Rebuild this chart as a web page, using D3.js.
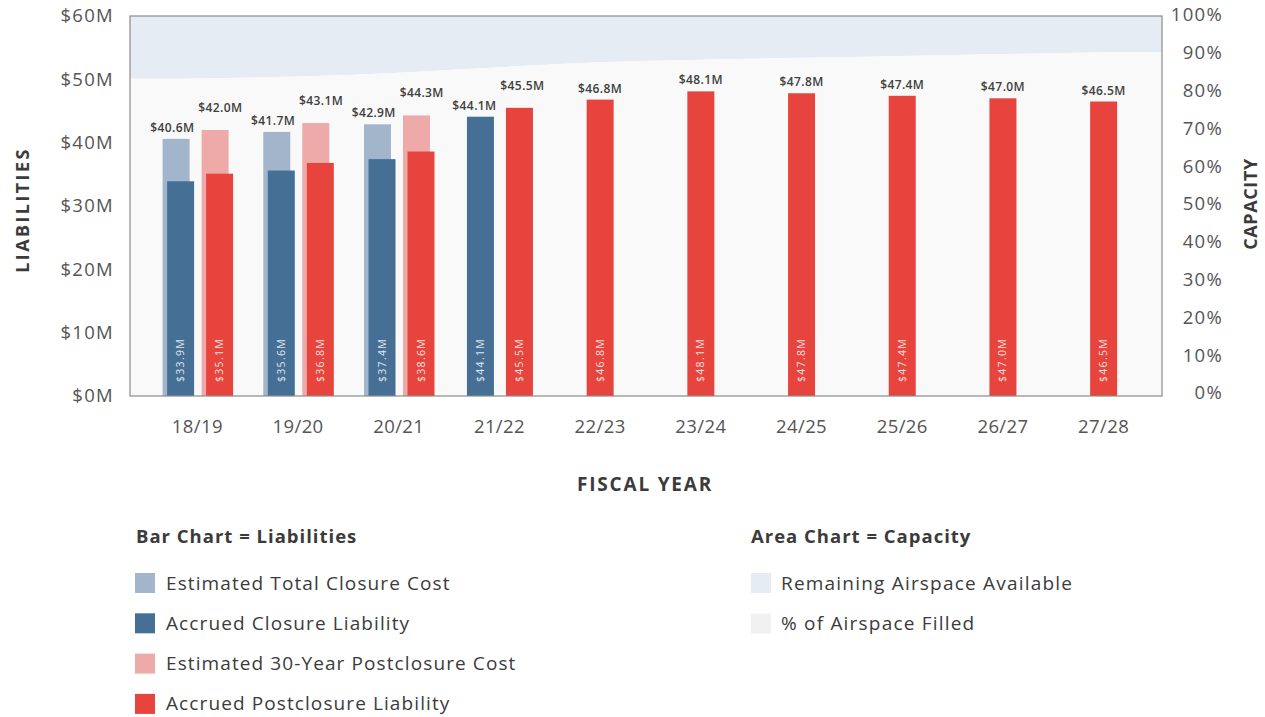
<!DOCTYPE html>
<html>
<head>
<meta charset="utf-8">
<script src="https://cdn.jsdelivr.net/npm/d3@7/dist/d3.min.js"></script>
<style>
  html, body { margin: 0; padding: 0; background: #fff; }
  svg { display: block; font-family: "Open Sans", "Noto Sans", sans-serif; }
</style>
</head>
<body>
<svg id="chart" width="1265" height="717"></svg>
<script>
// ---- data ----
const years = ["18/19","19/20","20/21","21/22","22/23","23/24","24/25","25/26","26/27","27/28"];
const estClosure = [40.6, 41.7, 42.9, null, null, null, null, null, null, null];
const accClosure = [33.9, 35.6, 37.4, 44.1, null, null, null, null, null, null];
const estPost    = [42.0, 43.1, 44.3, null, null, null, null, null, null, null];
const accPost    = [35.1, 36.8, 38.6, 45.5, 46.8, 48.1, 47.8, 47.4, 47.0, 46.5];
const pctFilled  = [83.5, 84, 85, 86.5, 88, 88.5, 89, 89.5, 90, 90.5];
const leftTicks  = [0, 10, 20, 30, 40, 50, 60];
const rightTicks = [0, 10, 20, 30, 40, 50, 60, 70, 80, 90, 100];
const barLegend  = ["Estimated Total Closure Cost", "Accrued Closure Liability", "Estimated 30-Year Postclosure Cost", "Accrued Postclosure Liability"];
const areaLegend = ["Remaining Airspace Available", "% of Airspace Filled"];

// ---- styles ----
const C = {
  estClosure: "#a2b5cb", accClosure: "#466f95",
  estPost: "#eeaaa9", accPost: "#e6443c",
  remaining: "#e5ecf4", filled: "#f9f9f9",
  text: "#3b3b3b", tick: "#555"
};
const plot = { left: 130, right: 1162, top: 16, bottom: 396 };

const svg = d3.select("#chart");
const x = d3.scaleBand().domain(years).range([147, 1154]);
const y = d3.scaleLinear().domain([0, 60]).range([plot.bottom, plot.top]);
const y2 = d3.scaleLinear().domain([0, 100]).range([393, 15]);
const yA = d3.scaleLinear().domain([0, 100]).range([plot.bottom, plot.top]);
const cx = d => x(d) + x.bandwidth() / 2;

// ---- area (capacity) ----
const areaPts = years.map((d, i) => ({ x: cx(d), v: pctFilled[i] }));
areaPts.unshift({ x: plot.left, v: pctFilled[0] });
areaPts.push({ x: plot.right, v: pctFilled[pctFilled.length - 1] });

svg.append("path")
  .attr("d", d3.area().x(d => d.x).y0(yA(100)).y1(d => yA(d.v)).curve(d3.curveBasis)(areaPts))
  .attr("fill", C.remaining);
svg.append("path")
  .attr("d", d3.area().x(d => d.x).y0(yA(0)).y1(d => yA(d.v)).curve(d3.curveBasis)(areaPts))
  .attr("fill", C.filled);

// ---- bars ----
const barW = 27, shift = 4.5;
const rows = years.map((d, i) => {
  const hasClosure = accClosure[i] != null;
  const c = cx(d);
  return {
    year: d, c,
    closureC: hasClosure ? c - 19 : null,
    postC: hasClosure ? c + 20 : c,
    estC: estClosure[i], accC: accClosure[i], estP: estPost[i], accP: accPost[i]
  };
});

const g = svg.append("g");
const lg = svg.append("g");
function bar(xc, v, color) {
  g.append("rect")
    .attr("x", xc - barW / 2).attr("width", barW)
    .attr("y", y(v)).attr("height", y(0) - y(v))
    .attr("fill", color);
}
function topLabel(xc, v, lift) {
  lg.append("text").attr("x", xc).attr("y", y(v) - 7 - lift)
    .attr("text-anchor", "middle").attr("font-size", 12).attr("font-weight", 600)
    .attr("letter-spacing", 0.4)
    .attr("fill", "#404040").text("$" + v.toFixed(1) + "M");
}
function inLabel(xc, v) {
  g.append("text")
    .attr("transform", `translate(${xc + 3.5},${plot.bottom - 14}) rotate(-90)`)
    .attr("font-size", 10.5).attr("fill", "#fff").attr("fill-opacity", 0.85)
    .attr("letter-spacing", 1.3)
    .text("$" + v.toFixed(1) + "M");
}
rows.forEach(r => {
  const topC = r.estC != null ? r.estC : r.accC;
  const topP = r.estP != null ? r.estP : r.accP;
  if (r.closureC != null) {
    if (r.estC != null) bar(r.closureC - shift / 2, r.estC, C.estClosure);
    bar(r.closureC + (r.estC != null ? shift / 2 : 0), r.accC, C.accClosure);
    inLabel(r.closureC + (r.estC != null ? shift / 2 : 0), r.accC);
    // avoid collision with neighbouring postclosure label: lift the taller one
    const close = Math.abs(y(topC) - y(topP)) < 16;
    topLabel(r.closureC - 6, topC, 0);
    r.liftP = close ? 11 : 0;
  }
  if (r.estP != null) bar(r.postC - shift / 2, r.estP, C.estPost);
  const pc = r.postC + (r.estP != null ? shift / 2 : 0);
  bar(pc, r.accP, C.accPost);
  topLabel(r.postC + (r.closureC != null ? 3 : 0), topP, r.liftP || 0);
  inLabel(pc, r.accP);
});

// ---- plot border ----
svg.append("rect")
  .attr("x", plot.left).attr("y", plot.top)
  .attr("width", plot.right - plot.left).attr("height", plot.bottom - plot.top)
  .attr("fill", "none").attr("stroke", "#8a8a8a").attr("stroke-width", 1.2);

// ---- axes ----
const axL = svg.append("g").attr("transform", `translate(${114},0)`)
  .call(d3.axisLeft(y).tickValues(leftTicks).tickSize(0).tickPadding(0).tickFormat(d => "$" + d + "M"));
const axR = svg.append("g").attr("transform", `translate(${1170},0)`)
  .call(d3.axisRight(y2).tickValues(rightTicks).tickSize(0).tickPadding(0).tickFormat(d => d + "%"));
axR.selectAll("text").attr("text-anchor", "end").attr("x", 53);
const axB = svg.append("g").attr("transform", `translate(0,${plot.bottom})`)
  .call(d3.axisBottom(x).tickSize(0).tickPadding(24));
[axL, axR, axB].forEach(a => {
  a.select(".domain").remove();
  a.selectAll("text").attr("font-size", 18.5).attr("fill", C.tick)
    .attr("letter-spacing", 1.3)
    .attr("font-family", "'Open Sans', sans-serif");
});
axB.selectAll("text").attr("font-size", 18.5).attr("letter-spacing", 0.4);

// axis titles
svg.append("text").attr("transform", "translate(29,210) rotate(-90)")
  .attr("text-anchor", "middle").attr("font-size", 18).attr("font-weight", 700)
  .attr("fill", C.text).attr("letter-spacing", 2.4).text("LIABILITIES");
svg.append("text").attr("transform", "translate(1257,204) rotate(-90)")
  .attr("text-anchor", "middle").attr("font-size", 18).attr("font-weight", 700)
  .attr("fill", C.text).attr("letter-spacing", 0.6).text("CAPACITY");
svg.append("text").attr("x", 645).attr("y", 491)
  .attr("text-anchor", "middle").attr("font-size", 19).attr("font-weight", 700)
  .attr("fill", C.text).attr("letter-spacing", 1.8).text("FISCAL YEAR");

// ---- legends ----
const barColors = [C.estClosure, C.accClosure, C.estPost, C.accPost];
svg.append("text").attr("x", 136).attr("y", 543).attr("font-size", 18.5).attr("font-weight", 700)
  .attr("letter-spacing", 1).attr("fill", C.text).text("Bar Chart = Liabilities");
barLegend.forEach((t, i) => {
  const yc = 583 + i * 40.3;
  svg.append("rect").attr("x", 135).attr("y", yc - 10).attr("width", 20).attr("height", 20).attr("fill", barColors[i]);
  svg.append("text").attr("x", 166).attr("y", yc + 6.5).attr("font-size", 19).attr("letter-spacing", 1.1)
    .attr("fill", C.text).text(t);
});
const areaColors = [C.remaining, "#f1f1f1"];
svg.append("text").attr("x", 751).attr("y", 543).attr("font-size", 18.5).attr("font-weight", 700)
  .attr("letter-spacing", 1).attr("fill", C.text).text("Area Chart = Capacity");
areaLegend.forEach((t, i) => {
  const yc = 583 + i * 40.5;
  svg.append("rect").attr("x", 751).attr("y", yc - 10).attr("width", 20).attr("height", 20).attr("fill", areaColors[i]);
  svg.append("text").attr("x", 781).attr("y", yc + 6.5).attr("font-size", 19).attr("letter-spacing", 1.2)
    .attr("fill", C.text).text(t);
});
</script>
</body>
</html>
